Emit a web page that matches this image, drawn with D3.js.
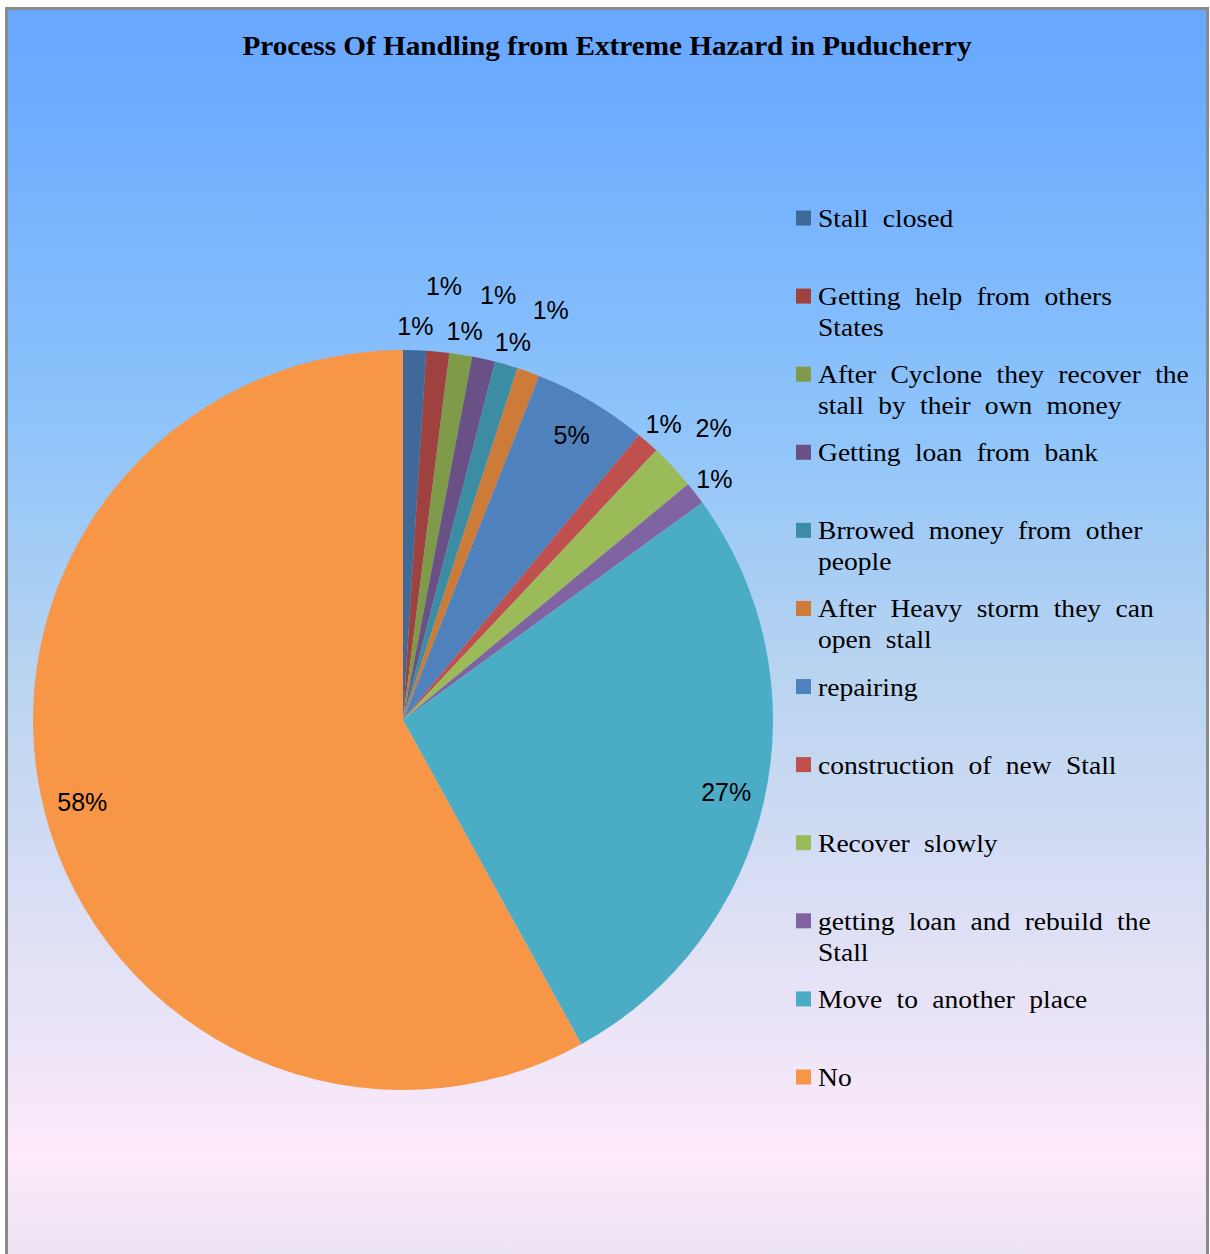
<!DOCTYPE html>
<html>
<head>
<meta charset="utf-8">
<script src="https://cdn.jsdelivr.net/npm/d3@7"></script>
<style>
  html, body { margin: 0; padding: 0; background: #ffffff; }
  svg { display: block; }
</style>
</head>
<body>
<script>
// ---- data ----
const title = "Process Of Handling from Extreme Hazard in Puducherry";
const categories = [
  "Stall closed",
  "Getting help from others States",
  "After Cyclone they recover the stall by their own money",
  "Getting loan from bank",
  "Brrowed money from other people",
  "After Heavy storm they can open stall",
  "repairing",
  "construction of new Stall",
  "Recover slowly",
  "getting loan and rebuild the Stall",
  "Move to another place",
  "No"
];
const legendLines = [
  ["Stall closed"],
  ["Getting help from others", "States"],
  ["After Cyclone they recover the", "stall by their own money"],
  ["Getting loan from bank"],
  ["Brrowed money from other", "people"],
  ["After Heavy storm they can", "open stall"],
  ["repairing"],
  ["construction of new Stall"],
  ["Recover slowly"],
  ["getting loan and rebuild the", "Stall"],
  ["Move to another place"],
  ["No"]
];
const values = [1, 1, 1, 1, 1, 1, 5, 1, 2, 1, 27, 58];
const colors = ["#3f6998", "#9f413e", "#7f9a48", "#695185", "#3c8da3", "#cc7b38",
                "#4f81bd", "#c0504d", "#9bbb59", "#8064a2", "#4bacc6", "#f79646"];

// ---- layout ----
const W = 1210, H = 1254;
const cx = 403, cy = 720, R = 370;

const svg = d3.select("body").append("svg").attr("width", W).attr("height", H);
const defs = svg.append("defs");
const grad = defs.append("linearGradient").attr("id", "bg")
  .attr("x1", 0).attr("y1", 0).attr("x2", 0).attr("y2", 1);
[[0, "#67a7ff"], [0.08, "#6eadff"], [0.33, "#8ec4fa"], [0.53, "#b9d4f0"],
 [0.72, "#dcdff5"], [0.91, "#fdeafa"], [1, "#ebe3f3"]].forEach(([o, c]) =>
  grad.append("stop").attr("offset", o).attr("stop-color", c));

svg.append("rect").attr("x", 6.5).attr("y", 8.5).attr("width", 1201).attr("height", 1260)
  .attr("fill", "url(#bg)").attr("stroke", "#8a8a8a").attr("stroke-width", 3);

svg.append("text")
  .attr("x", 607).attr("y", 55)
  .attr("text-anchor", "middle")
  .attr("font-family", "'Liberation Serif', 'Times New Roman', serif")
  .attr("font-weight", "bold")
  .attr("font-size", 28)
  .attr("textLength", 729).attr("lengthAdjust", "spacingAndGlyphs")
  .attr("fill", "#000")
  .text(title);

// ---- pie ----
const color = d3.scaleOrdinal().domain(categories).range(colors);
const pie = d3.pie().sort(null).value(d => d.value);
const data = categories.map((c, i) => ({ name: c, value: values[i], idx: i }));
const arcs = pie(data);
const total = d3.sum(values);
const arc = d3.arc().innerRadius(0).outerRadius(R);

// position of each small slice within its run of consecutive small slices
const isSmall = d => d.value / total < 0.05;
let run = -1;
data.forEach(d => { run = isSmall(d) ? run + 1 : -1; d.runPos = run; });

const g = svg.append("g").attr("transform", `translate(${cx},${cy})`);
g.selectAll("path").data(arcs).join("path")
  .attr("d", arc)
  .attr("fill", d => color(d.data.name));

const labelR = d => {
  if (!isSmall(d.data)) return R * 0.895;
  return d.data.runPos % 2 === 1 ? R + (d.data.runPos > 2 || d.data.idx < 6 ? 66 : 56) : R + 24;
};
g.selectAll("text.lbl").data(arcs).join("text")
  .attr("class", "lbl")
  .attr("transform", d => {
    const a = (d.startAngle + d.endAngle) / 2;
    const r = labelR(d);
    return `translate(${r * Math.sin(a)},${-r * Math.cos(a)})`;
  })
  .attr("text-anchor", "middle")
  .attr("dy", "0.36em")
  .attr("font-family", "'Liberation Sans', Arial, sans-serif")
  .attr("font-size", 25)
  .attr("fill", "#000")
  .text(d => Math.round(d.data.value / total * 100) + "%");

// ---- legend ----
const ly = d3.scalePoint().domain(categories).range([218, 1077]);
const leg = svg.append("g");
const items = leg.selectAll("g").data(categories).join("g")
  .attr("transform", d => `translate(796,${ly(d)})`);
items.append("rect")
  .attr("x", 0).attr("y", -7.5).attr("width", 15).attr("height", 15)
  .attr("fill", d => color(d));
items.append("text")
  .attr("transform", "translate(22,9) scale(1.06,1)")
  .attr("font-family", "'Liberation Serif', 'Times New Roman', serif")
  .attr("font-size", 26)
  .attr("word-spacing", 7)
  .attr("fill", "#000")
  .each(function(d, i) {
    const t = d3.select(this);
    legendLines[i].forEach((ln, j) => {
      t.append("tspan").attr("x", 0).attr("dy", j === 0 ? 0 : 31).text(ln);
    });
  });
</script>
</body>
</html>
